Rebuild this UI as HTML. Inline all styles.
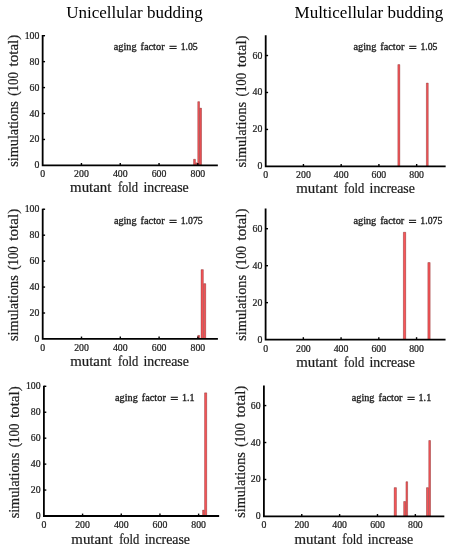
<!DOCTYPE html>
<html lang="en">
<head>
<meta charset="utf-8">
<title>Budding simulations</title>
<style>
html,body{margin:0;padding:0;background:#fff;}
svg{display:block;will-change:transform;}
text{font-family:"Liberation Serif", serif;fill:#1c1c1c;}
.tk{font-size:9.8px;stroke:#1c1c1c;stroke-width:0.22;}
.lb{font-size:13.6px;stroke:#1c1c1c;stroke-width:0.22;}
.an{font-size:9.6px;stroke:#1c1c1c;stroke-width:0.32;}
.ti{font-size:17px;fill:#000;}
.ax{stroke:#000;stroke-width:1.8;fill:none;stroke-linecap:butt;}
.t{stroke:#000;stroke-width:1.4;}
.b{fill:#f95659;}
.e{fill:none;stroke:#742f2f;stroke-width:0.4;}
</style>
</head>
<body>
<svg width="453" height="550" viewBox="0 0 453 550">
<rect x="0" y="0" width="453" height="550" fill="#fff"/>
<text class="ti" x="134.5" y="18" text-anchor="middle">Unicellular budding</text>
<text class="ti" x="368.9" y="18" text-anchor="middle">Multicellular budding</text>
<g>
<rect class="b" x="193.5" y="159.18" width="2" height="6.22"/>
<path class="e" d="M193.6 165.4V159.28H195.4V165.4"/>
<rect class="b" x="195.7" y="162.82" width="1.8" height="2.58"/>
<path class="e" d="M195.8 165.4V162.92H197.4V165.4"/>
<rect class="b" x="197.7" y="101.6" width="1.9" height="63.8"/>
<path class="e" d="M197.8 165.4V101.7H199.5V165.4"/>
<rect class="b" x="199.8" y="108.08" width="1.8" height="57.32"/>
<path class="e" d="M199.9 165.4V108.18H201.5V165.4"/>
<line class="t" x1="81.45" y1="165.4" x2="81.45" y2="163"/>
<line class="t" x1="120.25" y1="165.4" x2="120.25" y2="163"/>
<line class="t" x1="159.05" y1="165.4" x2="159.05" y2="163"/>
<line class="t" x1="197.85" y1="165.4" x2="197.85" y2="163"/>
<line class="t" x1="42.65" y1="139.46" x2="45.05" y2="139.46"/>
<line class="t" x1="42.65" y1="113.52" x2="45.05" y2="113.52"/>
<line class="t" x1="42.65" y1="87.58" x2="45.05" y2="87.58"/>
<line class="t" x1="42.65" y1="61.64" x2="45.05" y2="61.64"/>
<line class="t" x1="42.65" y1="35.7" x2="45.05" y2="35.7"/>
<path class="ax" d="M42.65 35.1V165.4H217.85"/>
<text class="tk" x="42.65" y="177" text-anchor="middle">0</text>
<text class="tk" x="81.45" y="177" text-anchor="middle">200</text>
<text class="tk" x="120.25" y="177" text-anchor="middle">400</text>
<text class="tk" x="159.05" y="177" text-anchor="middle">600</text>
<text class="tk" x="197.85" y="177" text-anchor="middle">800</text>
<text class="tk" x="39.35" y="168" text-anchor="end">0</text>
<text class="tk" x="39.35" y="142" text-anchor="end">20</text>
<text class="tk" x="39.35" y="117" text-anchor="end">40</text>
<text class="tk" x="39.35" y="91" text-anchor="end">60</text>
<text class="tk" x="39.35" y="65" text-anchor="end">80</text>
<text class="tk" x="39.35" y="39" text-anchor="end">100</text>
<text class="lb" transform="translate(70.1 192) scale(1.0951 1)">mutant</text>
<text class="lb" transform="translate(117.92 192) scale(0.9221 1)">fold</text>
<text class="lb" transform="translate(143.42 192) scale(1.0180 1)">increase</text>
<text class="lb" transform="translate(17.7 166.77) rotate(-90) scale(1.0474 1)">simulations</text>
<text class="lb" transform="translate(17.7 95.72) rotate(-90) scale(0.9509 1)">(100</text>
<text class="lb" transform="translate(17.7 66.5) rotate(-90) scale(1.1097 1)">total)</text>
<text class="an" transform="translate(113.84 50) scale(1.0647 1)">aging</text>
<text class="an" transform="translate(140.54 50) scale(1.0741 1)">factor</text>
<text class="an" transform="translate(168.98 51) scale(1.4974 1)">=</text>
<text class="an" transform="translate(180.67 50) scale(1.0163 1)">1.05</text>
</g>
<g>
<rect class="b" x="197.7" y="335.33" width="2" height="3.62"/>
<path class="e" d="M197.8 338.95V335.43H199.6V338.95"/>
<rect class="b" x="201" y="269.57" width="2.4" height="69.38"/>
<path class="e" d="M201.1 338.95V269.67H203.3V338.95"/>
<rect class="b" x="203.6" y="283.58" width="2.2" height="55.37"/>
<path class="e" d="M203.7 338.95V283.68H205.7V338.95"/>
<line class="t" x1="81.5" y1="338.95" x2="81.5" y2="336.55"/>
<line class="t" x1="120.3" y1="338.95" x2="120.3" y2="336.55"/>
<line class="t" x1="159.1" y1="338.95" x2="159.1" y2="336.55"/>
<line class="t" x1="197.9" y1="338.95" x2="197.9" y2="336.55"/>
<line class="t" x1="42.7" y1="313.01" x2="45.1" y2="313.01"/>
<line class="t" x1="42.7" y1="287.07" x2="45.1" y2="287.07"/>
<line class="t" x1="42.7" y1="261.13" x2="45.1" y2="261.13"/>
<line class="t" x1="42.7" y1="235.19" x2="45.1" y2="235.19"/>
<line class="t" x1="42.7" y1="209.25" x2="45.1" y2="209.25"/>
<path class="ax" d="M42.7 208.65V338.95H217.9"/>
<text class="tk" x="42.7" y="351" text-anchor="middle">0</text>
<text class="tk" x="81.5" y="351" text-anchor="middle">200</text>
<text class="tk" x="120.3" y="351" text-anchor="middle">400</text>
<text class="tk" x="159.1" y="351" text-anchor="middle">600</text>
<text class="tk" x="197.9" y="351" text-anchor="middle">800</text>
<text class="tk" x="39.4" y="342" text-anchor="end">0</text>
<text class="tk" x="39.4" y="316" text-anchor="end">20</text>
<text class="tk" x="39.4" y="290" text-anchor="end">40</text>
<text class="tk" x="39.4" y="264" text-anchor="end">60</text>
<text class="tk" x="39.4" y="238" text-anchor="end">80</text>
<text class="tk" x="39.4" y="212" text-anchor="end">100</text>
<text class="lb" transform="translate(70.15 366) scale(1.0951 1)">mutant</text>
<text class="lb" transform="translate(117.97 366) scale(0.9221 1)">fold</text>
<text class="lb" transform="translate(143.47 366) scale(1.0180 1)">increase</text>
<text class="lb" transform="translate(18 340.92) rotate(-90) scale(1.0474 1)">simulations</text>
<text class="lb" transform="translate(18 269.87) rotate(-90) scale(0.9509 1)">(100</text>
<text class="lb" transform="translate(18 240.65) rotate(-90) scale(1.1097 1)">total)</text>
<text class="an" transform="translate(113.89 224) scale(1.0647 1)">aging</text>
<text class="an" transform="translate(140.59 224) scale(1.0741 1)">factor</text>
<text class="an" transform="translate(169.03 225) scale(1.4974 1)">=</text>
<text class="an" transform="translate(180.71 224) scale(1.0222 1)">1.075</text>
</g>
<g>
<rect class="b" x="202.5" y="510.04" width="1.8" height="5.96"/>
<path class="e" d="M202.6 516V510.14H204.2V516"/>
<rect class="b" x="204.5" y="392.79" width="2.3" height="123.21"/>
<path class="e" d="M204.6 516V392.89H206.7V516"/>
<line class="t" x1="82.58" y1="516" x2="82.58" y2="513.6"/>
<line class="t" x1="121.26" y1="516" x2="121.26" y2="513.6"/>
<line class="t" x1="159.94" y1="516" x2="159.94" y2="513.6"/>
<line class="t" x1="198.62" y1="516" x2="198.62" y2="513.6"/>
<line class="t" x1="43.9" y1="490.06" x2="46.3" y2="490.06"/>
<line class="t" x1="43.9" y1="464.12" x2="46.3" y2="464.12"/>
<line class="t" x1="43.9" y1="438.18" x2="46.3" y2="438.18"/>
<line class="t" x1="43.9" y1="412.24" x2="46.3" y2="412.24"/>
<line class="t" x1="43.9" y1="386.3" x2="46.3" y2="386.3"/>
<path class="ax" d="M43.9 385.7V516H219.14"/>
<text class="tk" x="43.9" y="528" text-anchor="middle">0</text>
<text class="tk" x="82.58" y="528" text-anchor="middle">200</text>
<text class="tk" x="121.26" y="528" text-anchor="middle">400</text>
<text class="tk" x="159.94" y="528" text-anchor="middle">600</text>
<text class="tk" x="198.62" y="528" text-anchor="middle">800</text>
<text class="tk" x="40.6" y="519" text-anchor="end">0</text>
<text class="tk" x="40.6" y="493" text-anchor="end">20</text>
<text class="tk" x="40.6" y="467" text-anchor="end">40</text>
<text class="tk" x="40.6" y="441" text-anchor="end">60</text>
<text class="tk" x="40.6" y="415" text-anchor="end">80</text>
<text class="tk" x="40.6" y="389" text-anchor="end">100</text>
<text class="lb" transform="translate(71.35 544) scale(1.0951 1)">mutant</text>
<text class="lb" transform="translate(119.17 544) scale(0.9221 1)">fold</text>
<text class="lb" transform="translate(144.67 544) scale(1.0180 1)">increase</text>
<text class="lb" transform="translate(19.3 518.37) rotate(-90) scale(1.0474 1)">simulations</text>
<text class="lb" transform="translate(19.3 447.32) rotate(-90) scale(0.9509 1)">(100</text>
<text class="lb" transform="translate(19.3 418.1) rotate(-90) scale(1.1097 1)">total)</text>
<text class="an" transform="translate(115.09 401) scale(1.0647 1)">aging</text>
<text class="an" transform="translate(141.79 401) scale(1.0741 1)">factor</text>
<text class="an" transform="translate(170.23 402) scale(1.4974 1)">=</text>
<text class="an" transform="translate(181.89 401) scale(1.0511 1)">1.1</text>
</g>
<g>
<rect class="b" x="397.8" y="64.51" width="2.1" height="101.89"/>
<path class="e" d="M397.9 166.4V64.61H399.8V166.4"/>
<rect class="b" x="426.3" y="82.99" width="2" height="83.41"/>
<path class="e" d="M426.4 166.4V83.09H428.2V166.4"/>
<line class="t" x1="303.44" y1="166.4" x2="303.44" y2="164"/>
<line class="t" x1="341.18" y1="166.4" x2="341.18" y2="164"/>
<line class="t" x1="378.92" y1="166.4" x2="378.92" y2="164"/>
<line class="t" x1="416.66" y1="166.4" x2="416.66" y2="164"/>
<line class="t" x1="265.7" y1="129.44" x2="268.1" y2="129.44"/>
<line class="t" x1="265.7" y1="92.48" x2="268.1" y2="92.48"/>
<line class="t" x1="265.7" y1="55.52" x2="268.1" y2="55.52"/>
<path class="ax" d="M265.7 35.33V166.4H445.66"/>
<text class="tk" x="265.7" y="178" text-anchor="middle">0</text>
<text class="tk" x="303.44" y="178" text-anchor="middle">200</text>
<text class="tk" x="341.18" y="178" text-anchor="middle">400</text>
<text class="tk" x="378.92" y="178" text-anchor="middle">600</text>
<text class="tk" x="416.66" y="178" text-anchor="middle">800</text>
<text class="tk" x="262.4" y="169" text-anchor="end">0</text>
<text class="tk" x="262.4" y="132" text-anchor="end">20</text>
<text class="tk" x="262.4" y="95" text-anchor="end">40</text>
<text class="tk" x="262.4" y="59" text-anchor="end">60</text>
<text class="lb" transform="translate(296.25 193) scale(1.0951 1)">mutant</text>
<text class="lb" transform="translate(344.07 193) scale(0.9221 1)">fold</text>
<text class="lb" transform="translate(369.57 193) scale(1.0180 1)">increase</text>
<text class="lb" transform="translate(245.7 167.47) rotate(-90) scale(1.0474 1)">simulations</text>
<text class="lb" transform="translate(245.7 96.42) rotate(-90) scale(0.9509 1)">(100</text>
<text class="lb" transform="translate(245.7 67.2) rotate(-90) scale(1.1097 1)">total)</text>
<text class="an" transform="translate(353.59 50) scale(1.0647 1)">aging</text>
<text class="an" transform="translate(380.29 50) scale(1.0741 1)">factor</text>
<text class="an" transform="translate(408.72 51) scale(1.4974 1)">=</text>
<text class="an" transform="translate(420.42 50) scale(1.0163 1)">1.05</text>
</g>
<g>
<rect class="b" x="403.3" y="232.17" width="2.5" height="107.43"/>
<path class="e" d="M403.4 339.6V232.27H405.7V339.6"/>
<rect class="b" x="427.8" y="262.47" width="2.4" height="77.13"/>
<path class="e" d="M427.9 339.6V262.57H430.1V339.6"/>
<line class="t" x1="303.34" y1="339.6" x2="303.34" y2="337.2"/>
<line class="t" x1="341.08" y1="339.6" x2="341.08" y2="337.2"/>
<line class="t" x1="378.82" y1="339.6" x2="378.82" y2="337.2"/>
<line class="t" x1="416.56" y1="339.6" x2="416.56" y2="337.2"/>
<line class="t" x1="265.6" y1="302.64" x2="268" y2="302.64"/>
<line class="t" x1="265.6" y1="265.68" x2="268" y2="265.68"/>
<line class="t" x1="265.6" y1="228.72" x2="268" y2="228.72"/>
<path class="ax" d="M265.6 208.53V339.6H445.56"/>
<text class="tk" x="265.6" y="352" text-anchor="middle">0</text>
<text class="tk" x="303.34" y="352" text-anchor="middle">200</text>
<text class="tk" x="341.08" y="352" text-anchor="middle">400</text>
<text class="tk" x="378.82" y="352" text-anchor="middle">600</text>
<text class="tk" x="416.56" y="352" text-anchor="middle">800</text>
<text class="tk" x="262.3" y="343" text-anchor="end">0</text>
<text class="tk" x="262.3" y="306" text-anchor="end">20</text>
<text class="tk" x="262.3" y="269" text-anchor="end">40</text>
<text class="tk" x="262.3" y="232" text-anchor="end">60</text>
<text class="lb" transform="translate(296.15 367) scale(1.0951 1)">mutant</text>
<text class="lb" transform="translate(343.97 367) scale(0.9221 1)">fold</text>
<text class="lb" transform="translate(369.47 367) scale(1.0180 1)">increase</text>
<text class="lb" transform="translate(245.7 340.67) rotate(-90) scale(1.0474 1)">simulations</text>
<text class="lb" transform="translate(245.7 269.62) rotate(-90) scale(0.9509 1)">(100</text>
<text class="lb" transform="translate(245.7 240.4) rotate(-90) scale(1.1097 1)">total)</text>
<text class="an" transform="translate(353.49 224) scale(1.0647 1)">aging</text>
<text class="an" transform="translate(380.19 224) scale(1.0741 1)">factor</text>
<text class="an" transform="translate(408.62 225) scale(1.4974 1)">=</text>
<text class="an" transform="translate(420.31 224) scale(1.0222 1)">1.075</text>
</g>
<g>
<rect class="b" x="394.1" y="487.56" width="2.4" height="28.89"/>
<path class="e" d="M394.2 516.45V487.66H396.4V516.45"/>
<rect class="b" x="403.6" y="501.42" width="2.1" height="15.03"/>
<path class="e" d="M403.7 516.45V501.52H405.6V516.45"/>
<rect class="b" x="405.9" y="481.64" width="1.8" height="34.81"/>
<path class="e" d="M406 516.45V481.74H407.6V516.45"/>
<rect class="b" x="426.4" y="487.56" width="2.1" height="28.89"/>
<path class="e" d="M426.5 516.45V487.66H428.4V516.45"/>
<rect class="b" x="428.7" y="440.43" width="1.9" height="76.02"/>
<path class="e" d="M428.8 516.45V440.53H430.5V516.45"/>
<line class="t" x1="301.76" y1="516.45" x2="301.76" y2="514.05"/>
<line class="t" x1="339.62" y1="516.45" x2="339.62" y2="514.05"/>
<line class="t" x1="377.48" y1="516.45" x2="377.48" y2="514.05"/>
<line class="t" x1="415.34" y1="516.45" x2="415.34" y2="514.05"/>
<line class="t" x1="263.9" y1="479.49" x2="266.3" y2="479.49"/>
<line class="t" x1="263.9" y1="442.53" x2="266.3" y2="442.53"/>
<line class="t" x1="263.9" y1="405.57" x2="266.3" y2="405.57"/>
<path class="ax" d="M263.9 385.38V516.45H444.34"/>
<text class="tk" x="263.9" y="528" text-anchor="middle">0</text>
<text class="tk" x="301.76" y="528" text-anchor="middle">200</text>
<text class="tk" x="339.62" y="528" text-anchor="middle">400</text>
<text class="tk" x="377.48" y="528" text-anchor="middle">600</text>
<text class="tk" x="415.34" y="528" text-anchor="middle">800</text>
<text class="tk" x="260.6" y="519" text-anchor="end">0</text>
<text class="tk" x="260.6" y="482" text-anchor="end">20</text>
<text class="tk" x="260.6" y="446" text-anchor="end">40</text>
<text class="tk" x="260.6" y="409" text-anchor="end">60</text>
<text class="lb" transform="translate(294.45 544) scale(1.0951 1)">mutant</text>
<text class="lb" transform="translate(342.27 544) scale(0.9221 1)">fold</text>
<text class="lb" transform="translate(367.77 544) scale(1.0180 1)">increase</text>
<text class="lb" transform="translate(244.5 517.72) rotate(-90) scale(1.0474 1)">simulations</text>
<text class="lb" transform="translate(244.5 446.67) rotate(-90) scale(0.9509 1)">(100</text>
<text class="lb" transform="translate(244.5 417.45) rotate(-90) scale(1.1097 1)">total)</text>
<text class="an" transform="translate(351.79 401) scale(1.0647 1)">aging</text>
<text class="an" transform="translate(378.49 401) scale(1.0741 1)">factor</text>
<text class="an" transform="translate(406.92 402) scale(1.4974 1)">=</text>
<text class="an" transform="translate(418.59 401) scale(1.0511 1)">1.1</text>
</g>
</svg>
</body>
</html>
